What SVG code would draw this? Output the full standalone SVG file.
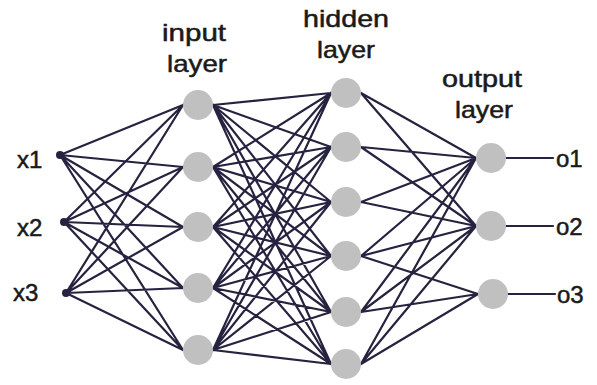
<svg xmlns="http://www.w3.org/2000/svg" width="597" height="385" viewBox="0 0 597 385">
<style>
.c{stroke:#25233f;stroke-width:2.2;fill:none;stroke-linecap:round}
.n{fill:#c0c0c0}
.d{fill:#25233f}
.t{font-family:"Liberation Sans",Arial,sans-serif;font-size:24px;fill:#1a1a1a;stroke:#1a1a1a;stroke-width:0.5}
</style>
<rect width="597" height="385" fill="#ffffff"/>
<g id="connectors" class="c">
<path d="M60,155L183,105M60,155L183,167M60,155L183,227M60,155L183,288M60,155L183,350M64,222L183,105M64,222L183,167M64,222L183,227M64,222L183,288M64,222L183,350M66,293L183,105M66,293L183,167M66,293L183,227M66,293L183,288M66,293L183,350"/>
<path d="M213,105L331,93M213,105L331,147M213,105L331,202M213,105L331,256M213,105L331,312M213,105L331,364M213,167L331,93M213,167L331,147M213,167L331,202M213,167L331,256M213,167L331,312M213,167L331,364M213,227L331,93M213,227L331,147M213,227L331,202M213,227L331,256M213,227L331,312M213,227L331,364M213,288L331,93M213,288L331,147M213,288L331,202M213,288L331,256M213,288L331,312M213,288L331,364M213,350L331,93M213,350L331,147M213,350L331,202M213,350L331,256M213,350L331,312M213,350L331,364"/>
<path d="M361,93L476,158M361,147L476,158M361,202L476,158M361,256L476,158M361,312L476,158M361,364L476,158M361,93L476,226M361,147L476,226M361,202L476,226M361,256L476,226M361,312L476,226M361,364L476,226M361,256L478,294M361,312L478,294M361,364L478,294"/>
<path d="M506,158L553,158M506,226L553,226M508,294L555,294"/>
</g>
<g id="x1"><circle class="d" cx="60" cy="155" r="4"/><text class="t" x="17" y="168">x1</text></g>
<g id="x2"><circle class="d" cx="64" cy="222" r="4"/><text class="t" x="17" y="236">x2</text></g>
<g id="x3"><circle class="d" cx="66" cy="293" r="4"/><text class="t" x="13" y="301">x3</text></g>
<g id="i1"><circle class="n" cx="198" cy="105" r="15"/></g>
<g id="i2"><circle class="n" cx="198" cy="167" r="15"/></g>
<g id="i3"><circle class="n" cx="198" cy="227" r="15"/></g>
<g id="i4"><circle class="n" cx="198" cy="288" r="15"/></g>
<g id="i5"><circle class="n" cx="198" cy="350" r="15"/></g>
<g id="h1"><circle class="n" cx="346" cy="93" r="15"/></g>
<g id="h2"><circle class="n" cx="346" cy="147" r="15"/></g>
<g id="h3"><circle class="n" cx="346" cy="202" r="15"/></g>
<g id="h4"><circle class="n" cx="346" cy="256" r="15"/></g>
<g id="h5"><circle class="n" cx="346" cy="312" r="15"/></g>
<g id="h6"><circle class="n" cx="346" cy="364" r="15"/></g>
<g id="o1"><circle class="n" cx="491" cy="158" r="15"/><text class="t" x="556" y="167">o1</text></g>
<g id="o2"><circle class="n" cx="491" cy="226" r="15"/><text class="t" x="556" y="235">o2</text></g>
<g id="o3"><circle class="n" cx="493" cy="294" r="15"/><text class="t" x="557" y="303">o3</text></g>
<g id="label-input">
<text class="t" x="162" y="41" textLength="64" lengthAdjust="spacingAndGlyphs">input</text>
<text class="t" x="167" y="72" textLength="60" lengthAdjust="spacingAndGlyphs">layer</text>
</g>
<g id="label-hidden">
<text class="t" x="303" y="27" textLength="86" lengthAdjust="spacingAndGlyphs">hidden</text>
<text class="t" x="317" y="58" textLength="58" lengthAdjust="spacingAndGlyphs">layer</text>
</g>
<g id="label-output">
<text class="t" x="442" y="87" textLength="80" lengthAdjust="spacingAndGlyphs">output</text>
<text class="t" x="455" y="118" textLength="58" lengthAdjust="spacingAndGlyphs">layer</text>
</g>
</svg>
